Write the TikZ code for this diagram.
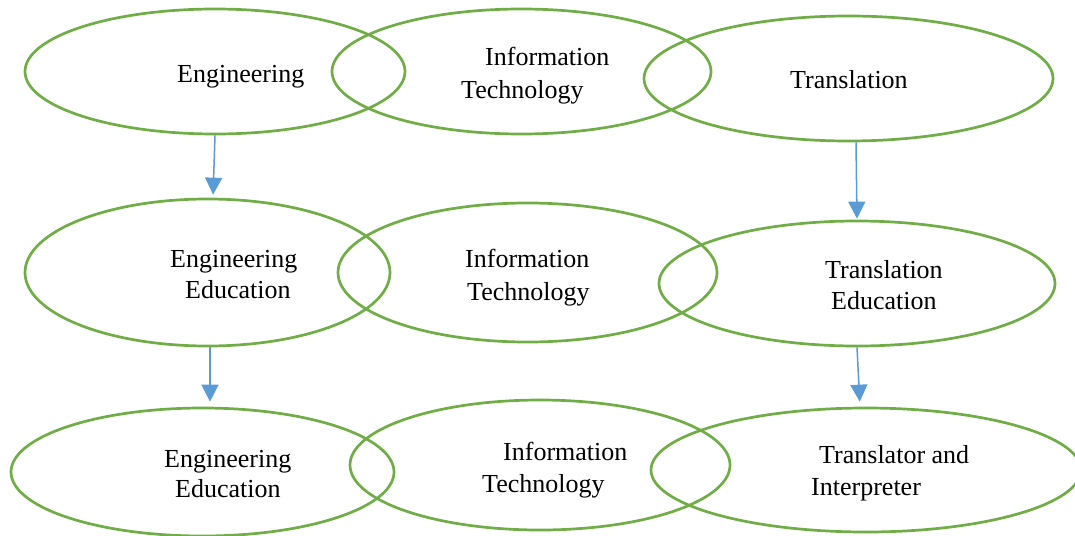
\documentclass[tikz,border=0pt]{standalone}
\usepackage{fontspec}
\setmainfont{Liberation Serif}
\usetikzlibrary{shapes.geometric,arrows.meta,calc}
\definecolor{ovalgreen}{HTML}{70AD47}
\definecolor{arrowblue}{HTML}{5B9BD5}
\begin{document}
\begin{tikzpicture}[x=1pt,y=-1pt,
  oval/.style={ellipse,draw=ovalgreen,line width=2.7pt,inner sep=0pt},
  lbl/.style={anchor=base west,inner sep=0pt,font=\fontsize{26}{30}\selectfont},
  arr/.style={draw=arrowblue,line width=1.5pt,-{Triangle[width=17pt,length=17pt]},fill=arrowblue}]
\useasboundingbox (0,0) rectangle (1075,535);

% top row
\node[oval,minimum width=380pt,minimum height=125pt] (e1) at (215,71.5) {};
\node[oval,minimum width=379pt,minimum height=125pt] (e2) at (521.5,71.5) {};
\node[oval,minimum width=409pt,minimum height=125pt] (e3) at (848.5,78.5) {};

% middle row
\node[oval,minimum width=365pt,minimum height=147pt] (e4) at (207.5,272.5) {};
\node[oval,minimum width=379pt,minimum height=139pt] (e5) at (527.5,272.5) {};
\node[oval,minimum width=396pt,minimum height=125pt] (e6) at (857,283.5) {};

% bottom row
\node[oval,minimum width=383pt,minimum height=128pt] (e7) at (202.5,472) {};
\node[oval,minimum width=380pt,minimum height=130pt] (e8) at (540,465) {};
\node[oval,minimum width=430pt,minimum height=124pt] (e9) at (866,470) {};

% labels
\node[lbl] (t1) at (177,82) {Engineering};
\node[lbl] (t2a) at (485,65) {Information};
\node[lbl] (t2b) at (461,98) {Technology};
\node[lbl] (t3) at (790,88) {Translation};

\node[lbl] (t4a) at (170,267) {Engineering};
\node[lbl] (t4b) at (185,298) {Education};
\node[lbl] (t5a) at (465,267) {Information};
\node[lbl] (t5b) at (467,300) {Technology};
\node[lbl] (t6a) at (825,278) {Translation};
\node[lbl] (t6b) at (831,309) {Education};

\node[lbl] (t7a) at (164,467) {Engineering};
\node[lbl] (t7b) at (175,497) {Education};
\node[lbl] (t8a) at (503,460) {Information};
\node[lbl] (t8b) at (482,492) {Technology};
\node[lbl] (t9a) at (819,463) {Translator and};
\node[lbl] (t9b) at (811,495) {Interpreter};

% arrows
\draw[arr,shorten >=3pt] (e1.south) -- ($(e1.south |- e4.north)+(-2,0)$);
\draw[arr,shorten >=1pt] ($(e3.south)+(7.5,0)$) -- ($(e3.south |- e6.north)+(8.5,0)$);
\draw[arr,shorten >=5pt] ($(e4.south)+(2.5,0)$) -- ($(e4.south |- e7.north)+(2.5,0)$);
\draw[arr,shorten >=5pt] (e6.south) -- ($(e6.south |- e9.north)+(3,0)$);
\end{tikzpicture}
\end{document}
